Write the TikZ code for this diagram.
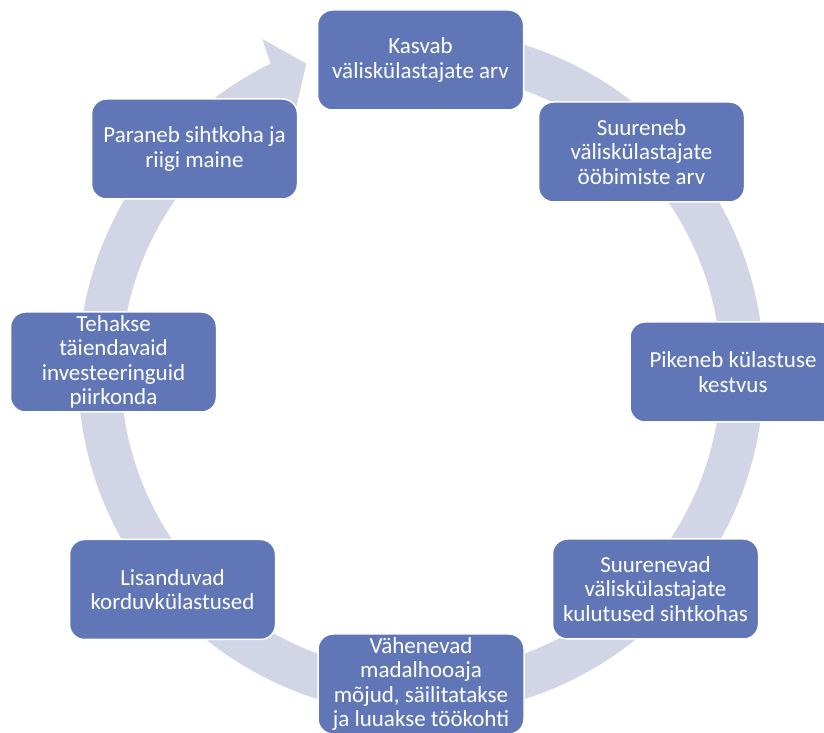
\documentclass[tikz,border=0pt]{standalone}
\usepackage{fontspec}
\setmainfont{Carlito}
\usetikzlibrary{calc}
\definecolor{boxblue}{RGB}{96,118,182}
\definecolor{bandgray}{RGB}{209,213,230}
\tikzset{
  stepbox/.style={rectangle, rounded corners=15pt, fill=boxblue, draw=white, line width=1.5pt,
    minimum width=206pt, minimum height=100pt, inner sep=0pt, align=center, text=white,
    font=\fontsize{23}{24.5}\selectfont},
}
\begin{document}
\begin{tikzpicture}[x=1pt,y=1pt]
\useasboundingbox (0,0) rectangle (824,733);
\clip (0,0) rectangle (824,733);
\coordinate (C) at (421,361);
% circular arrow band
\fill[bandgray] ($(C)+(80:343pt)$) arc[start angle=80, end angle=-244, radius=343pt]
  -- ($(C)+(-244.5:369pt)$)
  -- ($(C)+(-249.6:329pt)$)
  -- ($(C)+(-242:276pt)$)
  -- ($(C)+(-244:300pt)$)
  arc[start angle=-244, end angle=80, radius=300pt] -- cycle;
% boxes
\node[stepbox] (b1) at (420.5,673) {Kasvab\\väliskülastajate arv};
\node[stepbox] (b2) at (641.5,581) {Suureneb\\väliskülastajate\\ööbimiste arv};
\node[stepbox] (b3) at (733,361) {Pikeneb külastuse\\kestvus};
\node[stepbox] (b4) at (655.5,144) {Suurenevad\\väliskülastajate\\kulutused sihtkohas};
\node[stepbox] (b5) at (421,49) {Vähenevad\\madalhooaja\\mõjud, säilitatakse\\ja luuakse töökohti};
\node[stepbox] (b6) at (172.5,143.5) {Lisanduvad\\korduvkülastused};
\node[stepbox] (b7) at (113.5,371) {Tehakse\\täiendavaid\\investeeringuid\\piirkonda};
\node[stepbox] (b8) at (194.5,584) {Paraneb sihtkoha ja\\riigi maine};
\end{tikzpicture}
\end{document}
